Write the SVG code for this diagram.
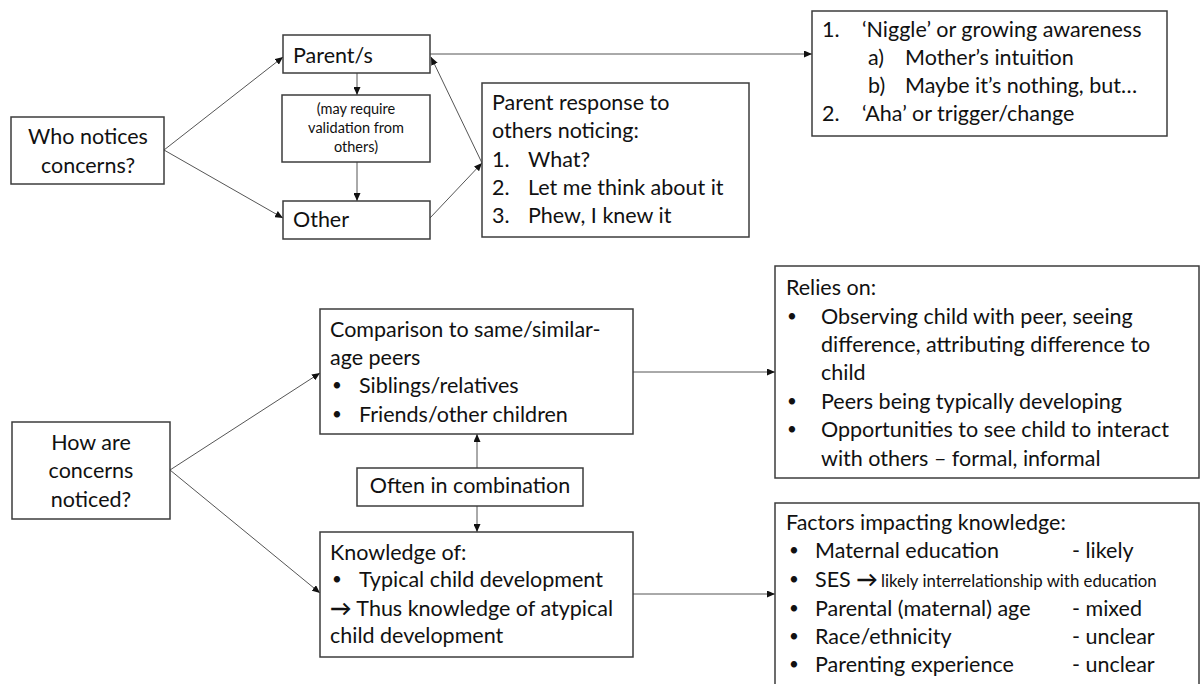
<svg xmlns="http://www.w3.org/2000/svg" width="1203" height="684" viewBox="0 0 1203 684">
  <defs>
    <marker id="arrow" markerUnits="userSpaceOnUse" markerWidth="8" markerHeight="7" refX="8" refY="3.5" orient="auto">
      <path d="M0,0 L8,3.5 L0,7 z" fill="#111"/>
    </marker>
    <style>
      .box { fill: #fff; stroke: #3c3c3c; stroke-width: 1.5; }
      .t { font-family: Lato, "DejaVu Sans", sans-serif; font-size: 21.5px; fill: #111; }
      .c { text-anchor: middle; }
      .sm { font-size: 14.5px; }
      .xs { font-size: 16.8px; }
      .b { font-weight: bold; }
      .dot { font-family: Lato, "DejaVu Sans", sans-serif; font-size: 17px; fill: #111; }
      .conn { fill: none; stroke: #555; stroke-width: 1; marker-end: url(#arrow); }
    </style>
  </defs>
  <rect width="1203" height="684" fill="#fff"/>

  <!-- connectors -->
  <g id="connectors">
    <path class="conn" d="M164,150 L283,57"/>
    <path class="conn" d="M164,150 L283,218"/>
    <path class="conn" d="M357,73 L357,95"/>
    <path class="conn" d="M357,162 L357,201"/>
    <path class="conn" d="M430,218 L482,163"/>
    <path class="conn" d="M482,163 L431,57"/>
    <path class="conn" d="M430,54 L812,54"/>
    <path class="conn" d="M170,470 L320,373"/>
    <path class="conn" d="M170,470 L320,593"/>
    <path class="conn" d="M477,468 L477,434"/>
    <path class="conn" d="M477,506 L477,532"/>
    <path class="conn" d="M633,372 L775,372"/>
    <path class="conn" d="M633,594 L775,594"/>
  </g>

  <!-- upper section: who notices -->
  <g id="who">
    <rect class="box" x="11" y="117" width="153" height="67"/>
    <text class="t c" x="88" y="144">Who notices</text>
    <text class="t c" x="88" y="173">concerns?</text>
  </g>
  <g id="parents">
    <rect class="box" x="283" y="35" width="147" height="38"/>
    <text class="t" x="293" y="63">Parent/s</text>
  </g>
  <g id="validation">
    <rect class="box" x="282" y="95" width="148" height="67"/>
    <text class="t sm c" x="356" y="114">(may require</text>
    <text class="t sm c" x="356" y="133">validation from</text>
    <text class="t sm c" x="356" y="152">others)</text>
  </g>
  <g id="other">
    <rect class="box" x="283" y="201" width="147" height="38"/>
    <text class="t" x="293" y="227">Other</text>
  </g>
  <g id="parent-response">
    <rect class="box" x="482" y="83" width="267" height="154"/>
    <text class="t" x="492" y="110">Parent response to</text>
    <text class="t" x="492" y="138">others noticing:</text>
    <text class="t" x="492" y="167">1.</text>
    <text class="t" x="528" y="167">What?</text>
    <text class="t" x="492" y="195">2.</text>
    <text class="t" x="528" y="195">Let me think about it</text>
    <text class="t" x="492" y="223">3.</text>
    <text class="t" x="528" y="223">Phew, I knew it</text>
  </g>
  <g id="awareness">
    <rect class="box" x="812" y="11" width="355" height="125"/>
    <text class="t" x="822" y="37">1.</text>
    <text class="t" x="862" y="37">‘Niggle’ or growing awareness</text>
    <text class="t" x="868" y="65">a)</text>
    <text class="t" x="905" y="65">Mother’s intuition</text>
    <text class="t" x="868" y="93">b)</text>
    <text class="t" x="905" y="93">Maybe it’s nothing, but…</text>
    <text class="t" x="822" y="121">2.</text>
    <text class="t" x="862" y="121">‘Aha’ or trigger/change</text>
  </g>

  <!-- lower section: how concerns are noticed -->
  <g id="how">
    <rect class="box" x="12" y="422" width="158" height="97"/>
    <text class="t c" x="91" y="450">How are</text>
    <text class="t c" x="91" y="478">concerns</text>
    <text class="t c" x="91" y="507">noticed?</text>
  </g>
  <g id="comparison">
    <rect class="box" x="320" y="309" width="313" height="125"/>
    <text class="t" x="330" y="337">Comparison to same/similar-</text>
    <text class="t" x="330" y="365">age peers</text>
    <text class="dot" x="332" y="391">•</text>
    <text class="t" x="359" y="393">Siblings/relatives</text>
    <text class="dot" x="332" y="420">•</text>
    <text class="t" x="359" y="422">Friends/other children</text>
  </g>
  <g id="combination">
    <rect class="box" x="357" y="468" width="226" height="38"/>
    <text class="t c" x="470" y="493">Often in combination</text>
  </g>
  <g id="knowledge">
    <rect class="box" x="320" y="532" width="313" height="125"/>
    <text class="t" x="330" y="560">Knowledge of:</text>
    <text class="dot" x="332" y="585">•</text>
    <text class="t" x="359" y="587">Typical child development</text>
    <text class="t" x="330" y="616"><tspan class="b">→</tspan> Thus knowledge of atypical</text>
    <text class="t" x="330" y="643">child development</text>
  </g>
  <g id="relies">
    <rect class="box" x="775" y="266" width="424" height="212"/>
    <text class="t" x="786" y="295">Relies on:</text>
    <text class="dot" x="787" y="322">•</text>
    <text class="t" x="821" y="324">Observing child with peer, seeing</text>
    <text class="t" x="821" y="352">difference, attributing difference to</text>
    <text class="t" x="821" y="380">child</text>
    <text class="dot" x="787" y="407">•</text>
    <text class="t" x="821" y="409">Peers being typically developing</text>
    <text class="dot" x="787" y="435">•</text>
    <text class="t" x="821" y="437">Opportunities to see child to interact</text>
    <text class="t" x="821" y="466">with others – formal, informal</text>
  </g>
  <g id="factors">
    <rect class="box" x="775" y="503" width="424" height="190"/>
    <text class="t" x="786" y="530">Factors impacting knowledge:</text>
    <text class="dot" x="789" y="556">•</text>
    <text class="t" x="815" y="558">Maternal education</text>
    <text class="t" x="1072" y="558">- likely</text>
    <text class="dot" x="789" y="585">•</text>
    <text class="t" x="815" y="587">SES <tspan class="b">→</tspan></text>
    <text class="t xs" x="881" y="587">likely interrelationship with education</text>
    <text class="dot" x="789" y="614">•</text>
    <text class="t" x="815" y="616">Parental (maternal) age</text>
    <text class="t" x="1072" y="616">- mixed</text>
    <text class="dot" x="789" y="642">•</text>
    <text class="t" x="815" y="644">Race/ethnicity</text>
    <text class="t" x="1072" y="644">- unclear</text>
    <text class="dot" x="789" y="670">•</text>
    <text class="t" x="815" y="672">Parenting experience</text>
    <text class="t" x="1072" y="672">- unclear</text>
  </g>
</svg>
